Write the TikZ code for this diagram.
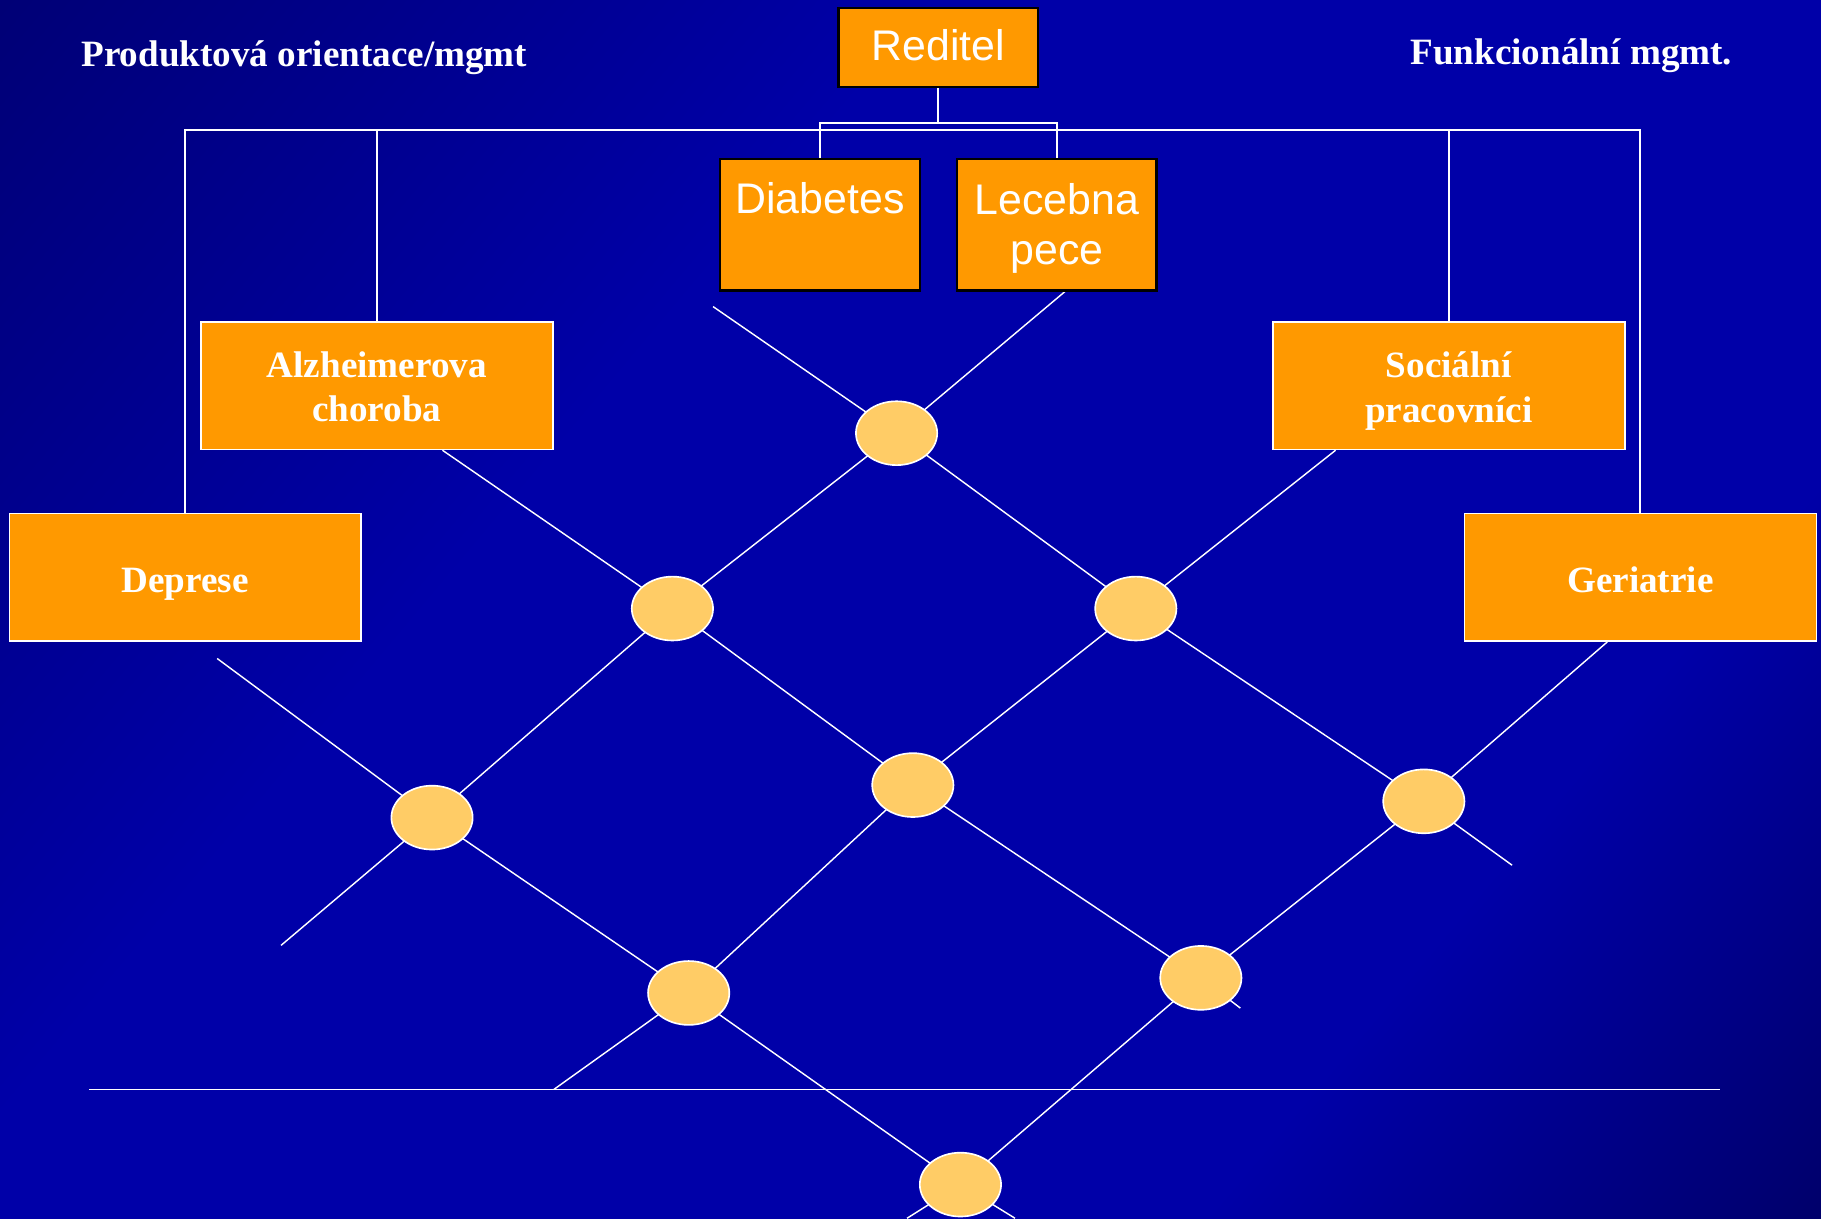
\documentclass[tikz,border=0pt]{standalone}
\usepackage{fontspec}
\setmainfont{Liberation Serif}
\newfontfamily\arialf{Liberation Sans}
\usetikzlibrary{shapes.geometric,calc}
\definecolor{bgdeep}{HTML}{000060}
\definecolor{bgdark}{HTML}{000070}
\definecolor{bgblue}{HTML}{0000A8}
\definecolor{bgcorner}{HTML}{000064}
\definecolor{bgend}{HTML}{000050}
\definecolor{boxorange}{HTML}{FF9900}
\definecolor{nodeyellow}{HTML}{FFCC66}
\pgfdeclarehorizontalshading{bgdiag}{100bp}{color(0bp)=(bgdeep); color(12bp)=(bgdark); color(38bp)=(bgblue); color(70bp)=(bgblue); color(87bp)=(bgcorner); color(100bp)=(bgend)}
\pgfdeclarelayer{bg}
\pgfdeclarelayer{wires}
\pgfsetlayers{bg,wires,main}
% invisible struts that move a label down (taller first line) or up (deeper last line)
\newcommand\padtop[1]{\rule{0pt}{#1}}
\newcommand\padbot[1]{\rule[-#1]{0pt}{#1}}
\begin{document}
\begin{tikzpicture}[x=0.02cm,y=-0.02cm,
  hbox/.style={rectangle, draw=black, line width=1.2pt, fill=boxorange, text=white,
    font=\arialf\fontsize{21}{24.5}\selectfont, align=center, inner sep=0pt,
    minimum width=3.44cm},
  pbox/.style={rectangle, draw=white, line width=0.8pt, fill=boxorange, text=white,
    font=\bfseries\fontsize{18.2}{21.6}\selectfont, align=center, inner sep=0pt,
    minimum width=6.06cm, minimum height=2.2cm},
  hub/.style={ellipse, draw=white, line width=0.8pt, fill=nodeyellow,
    minimum width=1.4cm, minimum height=1.1cm, inner sep=0pt},
  wire/.style={draw=white, line width=0.7pt},
  link/.style={draw=white, line width=1pt},
  title/.style={text=white, font=\bfseries\fontsize{18.2}{21.6}\selectfont}]

\useasboundingbox (0,0) rectangle (1568,1049);
\begin{pgfonlayer}{bg}
  \shade[shading=bgdiag, shading angle=-40] (0,0) rectangle (1568,1049);
\end{pgfonlayer}

% headings
\node[title] (tprod) at (262,50) {Produktová orientace/mgmt};
\node[title] (tfunk) at (1353,48) {Funkcionální mgmt.};

% top of the hierarchy
\node[hbox, minimum height=1.36cm] (red) at (808,41) {Reditel\padbot{2.3pt}};
\node[hbox, minimum height=2.26cm] (dia) at (706,193.5) {\padtop{21pt}Diabetes\\\strut};
\node[hbox, minimum height=2.26cm] (lec) at (910,193.5) {\padtop{18.7pt}Lecebna\\pece};

% product / function boxes
\node[pbox] (alz) at (324.5,332) {\padtop{13.5pt}Alzheimerova\\choroba};
\node[pbox] (dep) at (159.5,497) {\padtop{19pt}Deprese};
\node[pbox] (soc) at (1247.5,332) {\padtop{18pt}Sociální\\pracovníci};
\node[pbox] (ger) at (1412.5,497) {\padtop{15pt}Geriatrie};

% intersection hubs
\node[hub] (h1) at (772,373) {};
\node[hub] (h2) at (579,524) {};
\node[hub] (h3) at (978,524) {};
\node[hub] (h4) at (372,704) {};
\node[hub] (h5) at (786,676) {};
\node[hub] (h6) at (1226,690) {};
\node[hub] (h7) at (593,855) {};
\node[hub] (h8) at (1034,842) {};
\node[hub] (h9) at (827,1020) {};

% free ends of the grid lines
\coordinate (bar) at (160,112);
\coordinate (rj) at (808,106);
\coordinate (a0) at (614,264);
\coordinate (a1) at (1302,745);
\coordinate (b1) at (1068,868);
\coordinate (c0) at (187,567);
\coordinate (c1) at (874,1049);
\coordinate (d1) at (242,814);
\coordinate (e1) at (477,938);
\coordinate (f1) at (781,1049);
\coordinate (g0) at (77,938);
\coordinate (g1) at (1481,938);

% hierarchy connectors
\draw[link] (red.south) -- (rj);
\draw[link] (dia.north) |- (rj) -| (lec.north);
\draw[link] (dep.north) -- (dep.north |- bar) -- (ger.north |- bar) -- (ger.north);
\draw[link] (alz.north) -- (alz.north |- bar);
\draw[link] (soc.north) -- (soc.north |- bar);

% grid lines behind the hubs
\begin{pgfonlayer}{wires}
  \draw[wire] (a0) -- (h1.center) -- (h3.center) -- (h6.center) -- (a1);
  \draw[wire] ($(alz.south)+(56.5,0)$) -- (h2.center) -- (h5.center) -- (h8.center) -- (b1);
  \draw[wire] (c0) -- (h4.center) -- (h7.center) -- (h9.center) -- (c1);
  \draw[wire] ($(lec.south)+(7,0)$) -- (h1.center) -- (h2.center) -- (h4.center) -- (d1);
  \draw[wire] ($(soc.south)+(-97.5,0)$) -- (h3.center) -- (h5.center) -- (h7.center) -- (e1);
  \draw[wire] ($(ger.south)+(-28.5,0)$) -- (h6.center) -- (h8.center) -- (h9.center) -- (f1);
  \draw[wire] (g0) -- (g1);
\end{pgfonlayer}
\end{tikzpicture}
\end{document}
